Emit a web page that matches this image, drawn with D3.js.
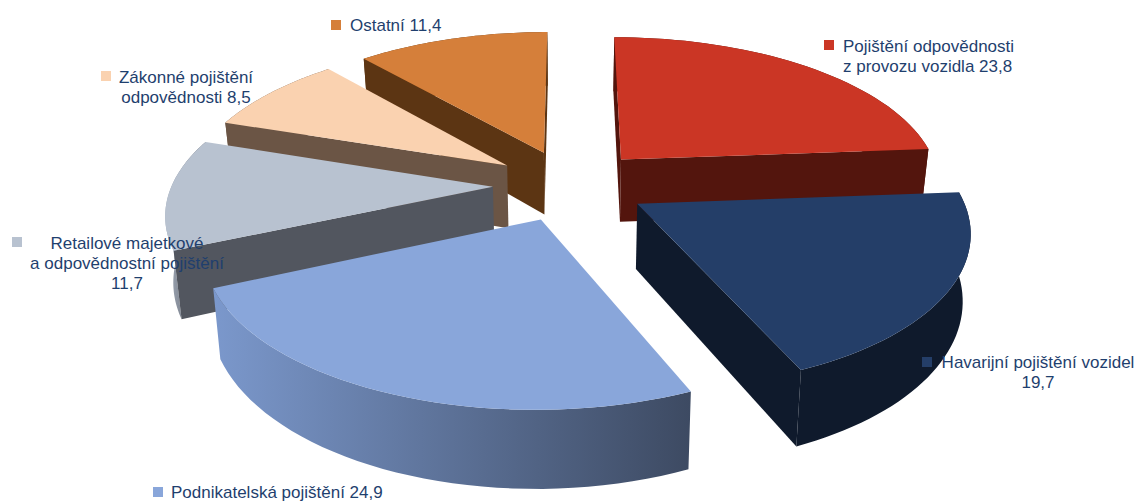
<!DOCTYPE html>
<html><head><meta charset="utf-8">
<script src="https://cdn.jsdelivr.net/npm/d3@7/dist/d3.min.js"></script>
<style>html,body{margin:0;padding:0;background:#fff}svg{display:block}text{font-family:"Liberation Sans",Arial,sans-serif;font-size:17px;fill:#1f3f6e}</style>
</head><body><svg id="c" width="1136" height="501"></svg>
<script>
const categories=["Pojištění odpovědnosti z provozu vozidla","Havarijní pojištění vozidel","Podnikatelská pojištění","Retailové majetkové a odpovědnostní pojištění","Zákonné pojištění odpovědnosti","Ostatní"];
const values=[23.8,19.7,24.9,11.7,8.5,11.4];
const topColors=["#cb3625","#243e68","#89a6da","#b8c2d0","#fad2b0","#d57f3a"];
const wallColors=["#53150d","#0f1a2c","#52565f","#52565f","#6b5545","#5c3513"];
const rimLeft=["#53150d","#0f1a2c","#7b98cc","#a4adbb","#6b5545","#5c3513"];
const rimRight=["#53150d","#0f1a2c","#3d4a62","#52565f","#6b5545","#5c3513"];
const labelLines=[["Pojištění odpovědnosti","z provozu vozidla 23,8"],["Havarijní pojištění vozidel","19,7"],["Podnikatelská pojištění 24,9"],["Retailové majetkové","a odpovědnostní pojištění","11,7"],["Zákonné pojištění","odpovědnosti 8,5"],["Ostatní 11,4"]];
const labelAnchors=[[843,46,"start"],[1038,362,"middle"],[171,492,"start"],[127,243,"middle"],[186,77,"middle"],[350,25,"start"]];
const markerAnchors=[[829,45],[927,362],[158,492],[17,242],[106,76],[336,25]];

const svg=d3.select("#c");
const cx=570,cy=185,A=321,B=148.7,k=0.156,explode=0.24,depth=64,converge=0.98;
const xS=d3.scaleLinear().domain([-1,1]).range([-A,A]);
const yS=d3.scaleLinear().domain([-1,1]).range([B,-B]);
const persp=v=>1/(1+k*v);
const project=(u,v,drop)=>{const s=persp(v);return [cx+xS(u)*s*(drop?converge:1),cy+yS(v)*s+(drop?depth*s:0)];};
const line=d3.line();
const arcs=d3.pie().sort(null).value(d=>d)(values);
const defs=svg.append("defs");
const order=[5,4,3,0,1,2];
order.forEach(i=>{
  const a=arcs[i],mid=(a.startAngle+a.endAngle)/2;
  const ou=explode*Math.sin(mid),ov=explode*Math.cos(mid);
  const angles=d3.range(0,41).map(t=>a.startAngle+(a.endAngle-a.startAngle)*t/40);
  const pt=(th,drop)=>project(ou+Math.sin(th),ov+Math.cos(th),drop);
  const apex=project(ou,ov,false),apexD=project(ou,ov,true);
  const top=angles.map(t=>pt(t,false)),bot=angles.map(t=>pt(t,true));
  const g=svg.append("g");
  const id="rim"+i;
  const xs=top.map(p=>p[0]);
  const gr=defs.append("linearGradient").attr("id",id).attr("gradientUnits","userSpaceOnUse")
    .attr("x1",d3.min(xs)).attr("x2",d3.max(xs)).attr("y1",0).attr("y2",0);
  gr.append("stop").attr("offset",0).attr("stop-color",rimLeft[i]);
  gr.append("stop").attr("offset",1).attr("stop-color",rimRight[i]);
  g.append("path").attr("d",line(top.concat(bot.slice().reverse()))+"Z").attr("fill",`url(#${id})`);
  const s0=top[0],e0=top[top.length-1];
  if(s0[0]<apex[0]) g.append("path").attr("d",line([apex,s0,bot[0],apexD])+"Z").attr("fill",wallColors[i]);
  if(apex[0]<e0[0]) g.append("path").attr("d",line([apex,e0,bot[bot.length-1],apexD])+"Z").attr("fill",wallColors[i]);
  g.append("path").attr("d",line([apex].concat(top))+"Z").attr("fill",topColors[i]);
});
categories.forEach((c,i)=>{
  const [mx,my]=markerAnchors[i];
  svg.append("rect").attr("x",mx-5).attr("y",my-5).attr("width",10).attr("height",10).attr("fill",topColors[i]);
  const [lx,ly,an]=labelAnchors[i];
  labelLines[i].forEach((t,j)=>svg.append("text").attr("x",lx).attr("y",ly+j*20).attr("dy","0.35em").attr("text-anchor",an).text(t));
});
</script></body></html>
